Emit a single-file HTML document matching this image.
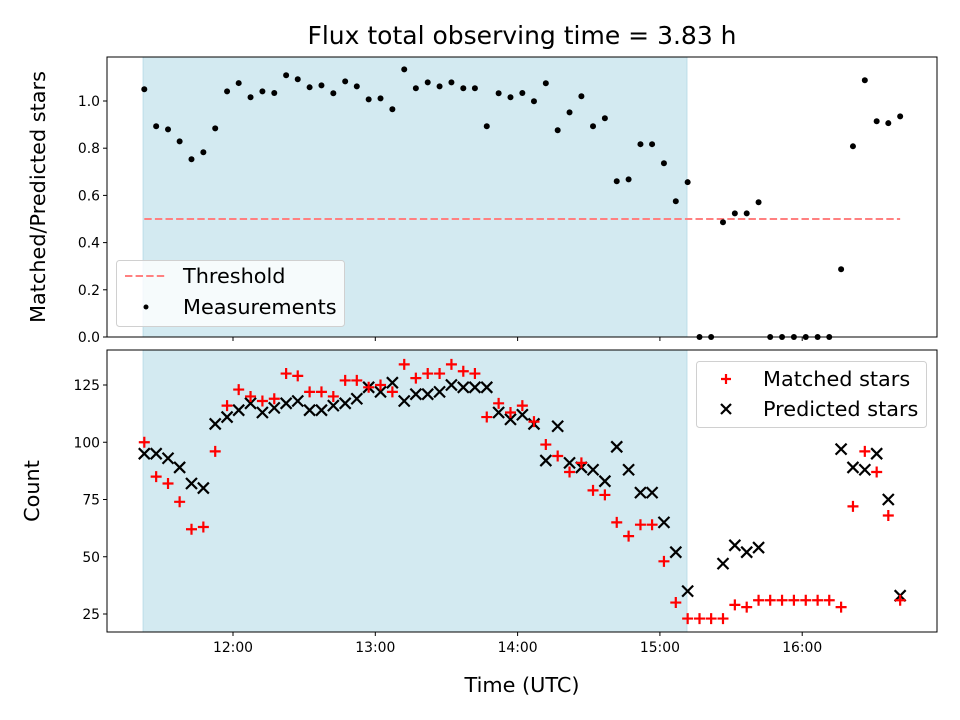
<!DOCTYPE html>
<html><head><meta charset="utf-8"><style>
html,body{margin:0;padding:0;background:#fff;}
svg{display:block;font-family:"DejaVu Sans","Liberation Sans",sans-serif;}
</style></head><body>
<svg id="chart" width="960" height="720" viewBox="0 0 960 720" xmlns="http://www.w3.org/2000/svg"></svg>
<script>
// time of each observation, minutes after 11:00 UTC
const times = [22.6,27.6,32.6,37.5,42.5,47.5,52.5,57.5,62.4,67.4,72.4,77.4,82.4,87.3,92.3,97.3,102.3,107.3,112.2,117.2,122.2,127.2,132.2,137.1,142.1,147.1,152.1,157.1,162.0,167.0,172.0,177.0,182.0,186.9,191.9,196.9,201.9,206.9,211.8,216.8,221.8,226.8,231.8,236.7,241.7,246.7,251.7,256.7,261.6,266.6,271.6,276.6,281.6,286.5,291.5,296.5,301.5,306.5,311.4,316.4,321.4,326.4,331.4,336.3,341.3];
const ratio = [1.05,0.893,0.88,0.829,0.753,0.783,0.884,1.041,1.076,1.016,1.041,1.034,1.109,1.092,1.058,1.066,1.033,1.083,1.062,1.007,1.011,0.965,1.134,1.054,1.079,1.062,1.079,1.054,1.054,0.893,1.033,1.016,1.034,0.999,1.075,0.876,0.952,1.02,0.893,0.927,0.66,0.668,0.817,0.817,0.736,0.575,0.656,0,0,0.486,0.524,0.524,0.571,0,0,0,0,0,0,0.287,0.808,1.088,0.914,0.906,0.935];
const matched = [100,85,82,74,62,63,96,116,123,120,118,119,130,129,122,122,120,127,127,124,125,122,134,128,130,130,134,131,130,111,117,113,116,109,99,94,87,91,79,77,65,59,64,64,48,30,23,23,23,23,29,28,31,31,31,31,31,31,31,28,72,96,87,68,31];
const predicted = [95,95,93,89,82,80,108,111,114,117,113,115,117,118,114,114,116,117,119,124,122,126,118,121,121,122,125,124,124,124,113,110,112,108,92,107,91,89,88,83,98,88,78,78,65,52,35,null,null,47,55,52,54,null,null,null,null,null,null,97,89,88,95,75,33];
const threshold = 0.5;
const shadeRange = [22.1, 251.4];
const xTickMinutes = [60,120,180,240,300];
const xTickLabels = ["12:00","13:00","14:00","15:00","16:00"];
const topTicks = [0,0.2,0.4,0.6,0.8,1.0];
const topTickLabels = ["0.0","0.2","0.4","0.6","0.8","1.0"];
const botTicks = [25,50,75,100,125];

const NS="http://www.w3.org/2000/svg";
const svg=document.getElementById('chart');
function el(tag,attrs,parent){const e=document.createElementNS(NS,tag);for(const k in attrs)e.setAttribute(k,attrs[k]);(parent||svg).appendChild(e);return e;}
const L=107,R=937;
const xS=m=>233+(m-60)*2.3717;
const yTop=v=>337-v*236;
const yBot=v=>614-(v-25)*2.29;
const BIG='20.8';

// title
let t=el('text',{x:522,y:44,'text-anchor':'middle','font-size':'25'});t.textContent='Flux total observing time = 3.83 h';



function panel(y0,y1,name){
  const g=el('g',{});
  
  
  const sh=el('rect',{x:xS(shadeRange[0]),y:y0,width:xS(shadeRange[1])-xS(shadeRange[0]),height:y1-y0,fill:'#d3eaf1',stroke:'#bcdde9','stroke-width':1},g);
  
  
  return g;
}
function frame(g,y0,y1){el('rect',{x:L,y:y0,width:R-L,height:y1-y0,fill:'none',stroke:'#000','stroke-width':1},g);}

// ---- top panel
const gT=panel(57,337,'ratio-panel');
const th=el('line',{x1:xS(times[0]),x2:xS(times[times.length-1]),y1:yTop(threshold),y2:yTop(threshold),stroke:'#ff8080','stroke-width':2,'stroke-dasharray':'7.4,3.2'},gT);


ratio.forEach((v,i)=>{
  const c=el('circle',{cx:xS(times[i]),cy:yTop(v),r:3,fill:'#000'},gT);
  
  
});
frame(gT,57,337);
topTicks.forEach((v,i)=>{
  const y=yTop(v);
  el('line',{x1:L-4,x2:L,y1:y,y2:y,stroke:'#000'},gT);
  const tx=el('text',{x:L-7,y:y+5,'text-anchor':'end','font-size':'13.9'},gT);tx.textContent=topTickLabels[i];
  
  
});
xTickMinutes.forEach(m=>el('line',{x1:xS(m),x2:xS(m),y1:337,y2:341,stroke:'#000'},gT));
let yl=el('text',{transform:'translate(45,197) rotate(-90)','text-anchor':'middle','font-size':BIG});yl.textContent='Matched/Predicted stars';


// top legend
const lg=el('g',{});


el('rect',{x:116.5,y:260.5,width:228,height:66,rx:3,fill:'#ffffff','fill-opacity':0.8,stroke:'#d0d0d0'},lg);
el('line',{x1:125,x2:166,y1:276,y2:276,stroke:'#ff8080','stroke-width':2,'stroke-dasharray':'7.4,3.2'},lg);
let lt=el('text',{x:183,y:283,'font-size':BIG},lg);lt.textContent='Threshold';
el('circle',{cx:146,cy:307,r:2.5,fill:'#000'},lg);
lt=el('text',{x:183,y:314,'font-size':BIG},lg);lt.textContent='Measurements';

// ---- bottom panel
const gB=panel(350,632,'count-panel');
predicted.forEach((v,i)=>{
  if(v===null)return;
  const x=xS(times[i]),y=yBot(v),s=5.5;
  const p=el('path',{d:`M${x-s},${y-s}L${x+s},${y+s}M${x-s},${y+s}L${x+s},${y-s}`,stroke:'#000','stroke-width':2.2,fill:'none'},gB);
  
  
});
matched.forEach((v,i)=>{
  if(v===null)return;
  const x=xS(times[i]),y=yBot(v),s=5.5;
  const p=el('path',{d:`M${x-s},${y}L${x+s},${y}M${x},${y-s}L${x},${y+s}`,stroke:'#ff0000','stroke-width':2.2,fill:'none'},gB);
  
  
});
frame(gB,350,632);
botTicks.forEach(v=>{
  const y=yBot(v);
  el('line',{x1:L-4,x2:L,y1:y,y2:y,stroke:'#000'},gB);
  const tx=el('text',{x:L-7,y:y+5,'text-anchor':'end','font-size':'13.9'},gB);tx.textContent=String(v);
  
  
});
xTickMinutes.forEach((m,i)=>{
  el('line',{x1:xS(m),x2:xS(m),y1:632,y2:636,stroke:'#000'},gB);
  const tx=el('text',{x:xS(m),y:652,'text-anchor':'middle','font-size':'13.9'},gB);tx.textContent=xTickLabels[i];
  
  
});
let xl=el('text',{x:522,y:692,'text-anchor':'middle','font-size':BIG});xl.textContent='Time (UTC)';


let yl2=el('text',{transform:'translate(39,491) rotate(-90)','text-anchor':'middle','font-size':BIG});yl2.textContent='Count';


// bottom legend
const lg2=el('g',{});


el('rect',{x:696.5,y:361.5,width:230,height:66,rx:3,fill:'#ffffff','fill-opacity':0.8,stroke:'#d0d0d0'},lg2);
el('path',{d:'M721,379L731,379M726,374L726,384',stroke:'#ff0000','stroke-width':2.2},lg2);
lt=el('text',{x:763,y:386,'font-size':BIG},lg2);lt.textContent='Matched stars';
el('path',{d:'M721,404L731,414M721,414L731,404',stroke:'#000','stroke-width':2.2},lg2);
lt=el('text',{x:763,y:416,'font-size':BIG},lg2);lt.textContent='Predicted stars';
</script>
</body></html>
